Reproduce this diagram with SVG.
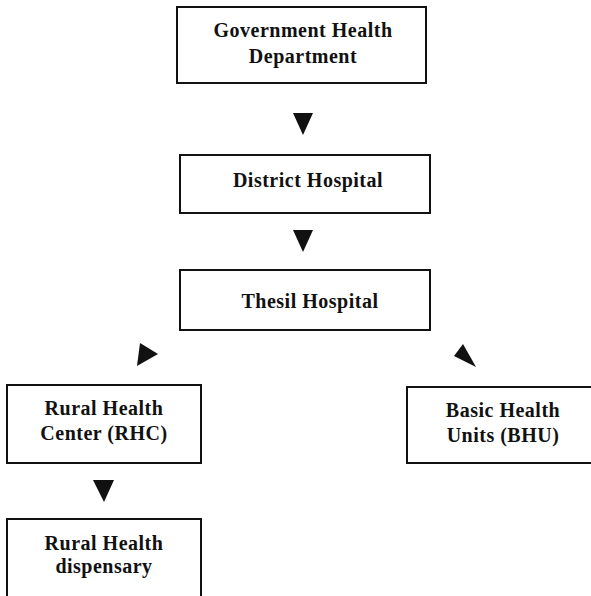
<svg xmlns="http://www.w3.org/2000/svg" width="591" height="596" viewBox="0 0 591 596">
<style>
.box{fill:#fff;stroke:#111;stroke-width:2}
.t{font-family:"Liberation Serif","Times New Roman",serif;font-weight:bold;font-size:20px;letter-spacing:0.5px;fill:#111;text-anchor:middle}
.arr{fill:#111}
</style>
<rect width="591" height="596" fill="#fff"/>
<g id="gov"><rect class="box" x="177" y="7" width="249" height="76"/>
<text class="t" x="303" y="37">Government Health</text>
<text class="t" x="303" y="63">Department</text></g>
<g id="district"><rect class="box" x="180" y="155" width="250" height="58"/>
<text class="t" x="308" y="187">District Hospital</text></g>
<g id="thesil"><rect class="box" x="180" y="270" width="250" height="60"/>
<text class="t" x="310" y="308">Thesil Hospital</text></g>
<g id="rhc"><rect class="box" x="7" y="385" width="194" height="78"/>
<text class="t" x="104" y="415">Rural Health</text>
<text class="t" x="104" y="440">Center (RHC)</text></g>
<g id="bhu"><rect class="box" x="407" y="387" width="186" height="76"/>
<text class="t" x="503" y="417">Basic Health</text>
<text class="t" x="503" y="442">Units (BHU)</text></g>
<g id="dispensary"><rect class="box" x="7" y="519" width="194" height="78"/>
<text class="t" x="104" y="550">Rural Health</text>
<text class="t" x="104" y="573">dispensary</text></g>
<g id="connectors">
<polygon class="arr" points="293,113 313,113 303,135"/>
<polygon class="arr" points="293,230 313,230 303,252"/>
<polygon class="arr" points="140,343 158,354 137,366"/>
<polygon class="arr" points="463,344 476,367 454,356"/>
<polygon class="arr" points="93,480 114,480 104,502"/>
</g>
</svg>
